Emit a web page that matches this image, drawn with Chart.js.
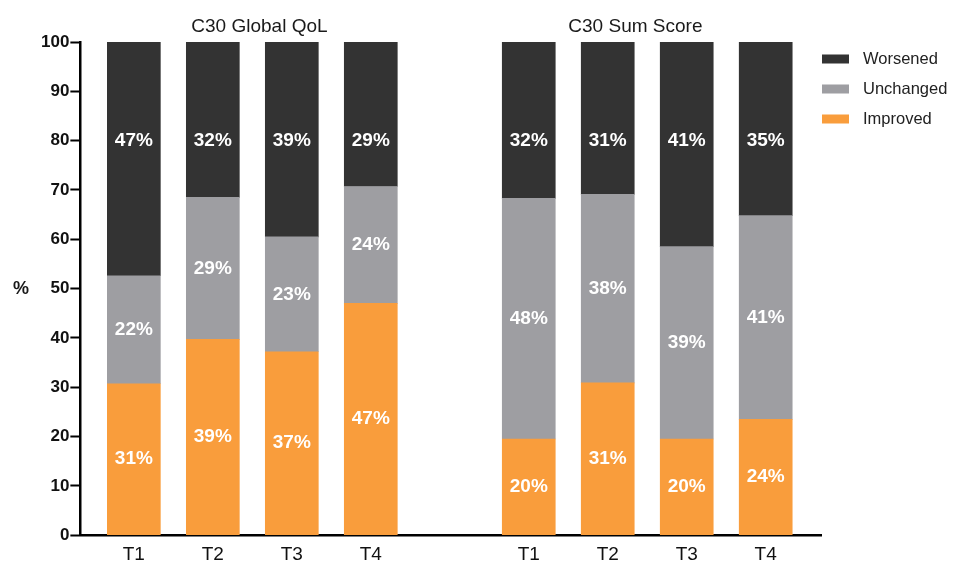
<!DOCTYPE html>
<html>
<head>
<meta charset="utf-8">
<script src="https://cdn.jsdelivr.net/npm/chart.js@4/dist/chart.umd.min.js"></script>
<style>
  html, body { margin: 0; padding: 0; background: #fff; }
  #wrap { width: 953px; height: 569px; }
</style>
</head>
<body>
<div id="wrap"><canvas id="qol"></canvas></div>
<script>
const groups = ['C30 Global QoL', 'C30 Sum Score'];
const timepoints = ['T1', 'T2', 'T3', 'T4'];

// bar segment heights (%), per group
const improved_qol = [30.7, 39.7, 37.2, 47.0];
const unchanged_qol = [21.9, 28.8, 23.3, 23.7];
const worsened_qol = [47.4, 31.5, 39.5, 29.3];
const improved_sum = [19.5, 30.9, 19.5, 23.5];
const unchanged_sum = [48.8, 38.2, 39.0, 41.3];
const worsened_sum = [31.7, 30.9, 41.5, 35.2];

// printed percentages on the bars
const improved_text = ['31%', '39%', '37%', '47%', '20%', '31%', '20%', '24%'];
const unchanged_text = ['22%', '29%', '23%', '24%', '48%', '38%', '39%', '41%'];
const worsened_text = ['47%', '32%', '39%', '29%', '32%', '31%', '41%', '35%'];

const y_ticks = [0, 10, 20, 30, 40, 50, 60, 70, 80, 90, 100];

const FONT = '"Liberation Sans", Arial, sans-serif';

// second group sits one empty slot after the first
function points(a, b) {
    return a.map((v, i) => ({ x: i, y: v })).concat(b.map((v, i) => ({ x: i + 5, y: v })));
}
const slots = timepoints.map((t, i) => i).concat(timepoints.map((t, i) => i + 5));

const barLabels = {
    id: 'barLabels',
    afterDatasetsDraw(chart) {
        const ctx = chart.ctx;
        const yScale = chart.scales.y;
        const texts = [improved_text, unchanged_text, worsened_text];
        ctx.save();
        ctx.fillStyle = '#ffffff';
        ctx.font = 'bold 19px ' + FONT;
        ctx.textAlign = 'center';
        ctx.textBaseline = 'middle';
        chart.data.datasets.forEach((ds, d) => {
            chart.getDatasetMeta(d).data.forEach((bar, i) => {
                let y = (bar.y + bar.base) / 2;
                // worsened labels all sit on the 80 line
                if (d === 2) y = yScale.getPixelForValue(80);
                ctx.fillText(texts[d][i], bar.x, y);
            });
        });
        ctx.restore();
    }
};

// legend on the right, top item first (reverse of the stack)
const sideLegend = {
    id: 'sideLegend',
    afterDraw(chart) {
        const ctx = chart.ctx;
        const area = chart.chartArea;
        const items = chart.data.datasets.slice().reverse();
        ctx.save();
        ctx.font = '16.5px ' + FONT;
        ctx.textAlign = 'left';
        ctx.textBaseline = 'middle';
        items.forEach((ds, i) => {
            const cy = area.top + 17 + i * 30;
            ctx.fillStyle = ds.backgroundColor;
            ctx.fillRect(area.right + 1, cy - 4.5, 27, 9);
            ctx.fillStyle = '#222';
            ctx.fillText(ds.label, area.right + 42, cy);
        });
        ctx.restore();
    }
};

const extraText = {
    id: 'extraText',
    afterDraw(chart) {
        const ctx = chart.ctx;
        const x = chart.scales.x;
        const y = chart.scales.y;
        ctx.save();
        ctx.fillStyle = '#1a1a1a';
        ctx.textAlign = 'center';
        ctx.textBaseline = 'middle';
        ctx.font = '19px ' + FONT;
        ctx.fillText(groups[0], x.getPixelForValue(1.59), 27);
        ctx.fillText(groups[1], x.getPixelForValue(6.35), 27);
        ctx.font = 'bold 18px ' + FONT;
        ctx.fillText('%', 21, y.getPixelForValue(50));
        ctx.restore();
    }
};

new Chart(document.getElementById('qol'), {
    type: 'bar',
    data: {
        datasets: [{
            label: 'Improved',
            data: points(improved_qol, improved_sum),
            backgroundColor: '#f99d3c'
        }, {
            label: 'Unchanged',
            data: points(unchanged_qol, unchanged_sum),
            backgroundColor: '#9e9ea2'
        }, {
            label: 'Worsened',
            data: points(worsened_qol, worsened_sum),
            backgroundColor: '#333333'
        }]
    },
    options: {
        responsive: true,
        maintainAspectRatio: false,
        animation: false,
        barThickness: 53,
        layout: {
            padding: { left: 40, top: 42, right: 132, bottom: -5 }
        },
        plugins: {
            tooltip: { enabled: false },
            legend: { display: false }
        },
        scales: {
            x: {
                type: 'linear',
                stacked: true,
                offset: false,
                min: -0.677,
                max: 8.70,
                afterBuildTicks: (scale) => {
                    scale.ticks = slots.map(v => ({ value: v }));
                },
                grid: { display: false, drawTicks: false },
                border: { display: true, color: '#000', width: 2.5 },
                ticks: {
                    color: '#111',
                    padding: 8,
                    autoSkip: false,
                    maxRotation: 0,
                    font: {
                        family: FONT,
                        size: 19
                    },
                    callback: (v) => timepoints[v % 5]
                }
            },
            y: {
                stacked: true,
                min: 0,
                max: 100,
                afterBuildTicks: (scale) => {
                    scale.ticks = y_ticks.map(v => ({ value: v }));
                },
                grid: {
                    drawOnChartArea: false,
                    color: '#000',
                    tickColor: '#000',
                    tickLength: 10,
                    tickWidth: 2
                },
                border: { display: true, color: '#000', width: 2.5 },
                ticks: {
                    color: '#111',
                    padding: 1,
                    font: {
                        family: FONT,
                        size: 17,
                        weight: 'bold'
                    }
                }
            }
        }
    },
    plugins: [barLabels, sideLegend, extraText]
});
</script>
</body>
</html>
